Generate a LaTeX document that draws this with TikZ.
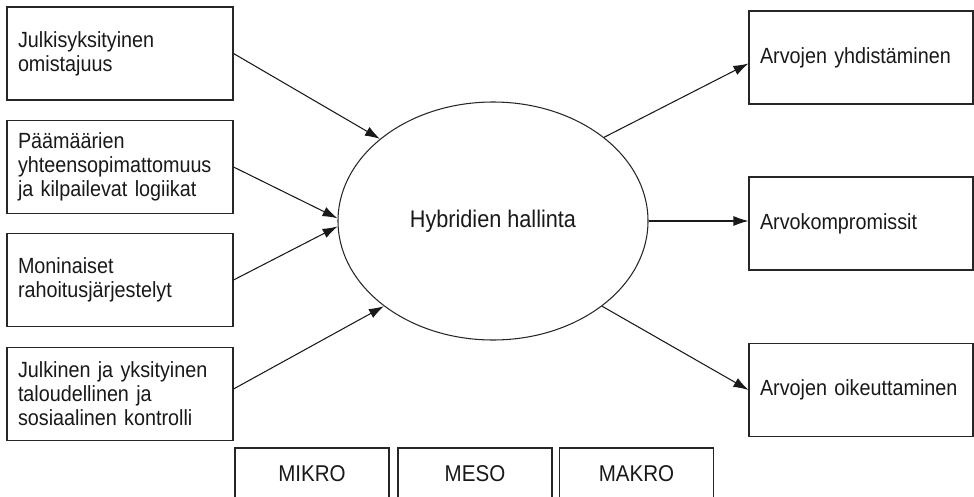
\documentclass[tikz,border=0pt]{standalone}
\usepackage{fontspec}
\setmainfont{Liberation Sans}[FakeStretch=0.9]
\usetikzlibrary{arrows.meta,shapes.geometric}

\begin{document}
\begin{tikzpicture}[
  inbox/.style={draw=black!85, line width=0.6pt, text=black!90, text width=4.08cm, inner xsep=0.22cm,
    minimum height=1.86cm, align=left, font=\fontsize{12.5}{13.7}\selectfont},
  outbox/.style={inbox, text width=4.04cm},
  levelbox/.style={draw=black!85, line width=0.6pt, text=black!90, minimum width=3.08cm,
    minimum height=1.04cm, font=\fontsize{13}{14}\selectfont},
  arr/.style={-{Latex[length=0.3cm,width=0.2cm]}, line width=0.6pt, black!90}
]
\useasboundingbox (0,0) rectangle (19.48,9.92);
% tekijat vasemmalla
\node[inbox] (o1) at (2.4,8.85) {Julkisyksityinen\\omistajuus} ;
\node[inbox] (o2) at (2.4,6.58) {Päämäärien\\yhteensopimattomuus\\ja kilpailevat logiikat} ;
\node[inbox] (o3) at (2.4,4.32) {Moninaiset\\rahoitusjärjestelyt} ;
\node[inbox] (o4) at (2.4,2.04) {Julkinen ja yksityinen\\taloudellinen ja\\sosiaalinen kontrolli} ;
% keskella
\node[ellipse, draw=black!85, line width=0.6pt, inner sep=0pt, minimum width=6.2cm, minimum height=4.76cm,
  font=\fontsize{13.7}{15}\selectfont, text=black!90] (hh) at (9.86,5.5) {Hybridien hallinta} ;
% tulokset oikealla
\node[outbox] (t1) at (17.22,8.77) {Arvojen yhdistäminen} ;
\node[outbox] (t2) at (17.22,5.45) {Arvokompromissit} ;
\node[outbox] (t3) at (17.22,2.12) {Arvojen oikeuttaminen} ;
% tasot
\node[levelbox] (mikro) at (6.24,0.44) {MIKRO} ;
\node[levelbox] (meso) at (9.5,0.44) {MESO} ;
\node[levelbox] (makro) at (12.73,0.44) {MAKRO} ;
% nuolet
\draw[arr] (o1.east) -- (hh.144) ;
\draw[arr] (o2.east) -- (hh.179) ;
\draw[arr] (o3.east) -- (hh.182) ;
\draw[arr] ([yshift=0.1cm]o4.east) -- (hh.218) ;
\draw[arr] (hh.37) -- ([yshift=-0.12cm]t1.west) ;
\draw[arr] (hh.east) -- (hh.east -| t2.west) ;
\draw[arr] (hh.-38) -- (t3.west) ;
\end{tikzpicture}
\end{document}
